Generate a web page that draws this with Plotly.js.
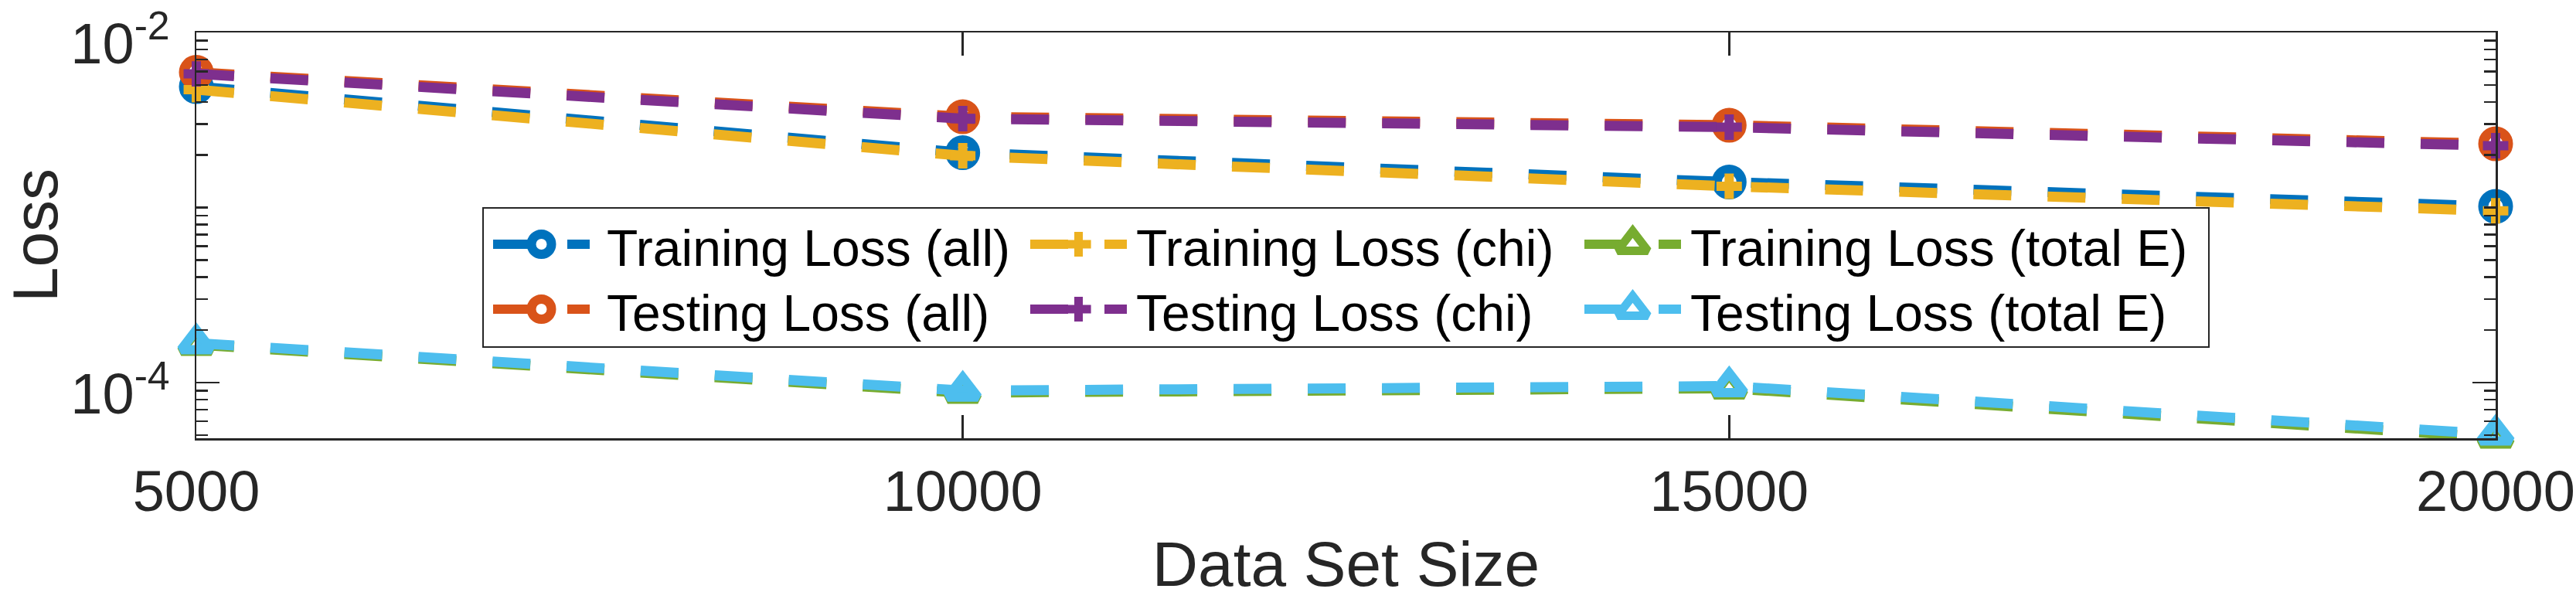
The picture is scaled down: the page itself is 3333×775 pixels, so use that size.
<!DOCTYPE html>
<html>
<head>
<meta charset="utf-8">
<script src="https://cdn.plot.ly/plotly-3.0.1.min.js"></script>
<style>
html, body { margin: 0; padding: 0; background: #ffffff; }
#chart { width: 3333px; height: 775px; }
</style>
</head>
<body>
<div id="chart"></div>
<script>
// ---- data ----
const dataSetSize   = [5000, 10000, 15000, 20000];
const trainLossAll  = [4.91e-3, 2.058e-3, 1.398e-3, 1.015e-3];
const testLossAll   = [5.92e-3, 3.302e-3, 2.953e-3, 2.313e-3];
const trainLossChi  = [4.71e-3, 1.976e-3, 1.322e-3, 0.957e-3];
const testLossChi   = [5.80e-3, 3.219e-3, 2.879e-3, 2.255e-3];
const trainLossE    = [1.645e-4, 8.76e-5, 9.27e-5, 4.86e-5];
const testLossE     = [1.68e-4, 9.00e-5, 9.55e-5, 5.06e-5];

const seriesNames = ['Training Loss (all)', 'Testing Loss (all)', 'Training Loss (chi)',
                     'Testing Loss (chi)', 'Training Loss (total E)', 'Testing Loss (total E)'];

const xTickVals = [5000, 10000, 15000, 20000];
const xTickText = ['5000', '10000', '15000', '20000'];
const yTickVals = [1e-4, 1e-2];
const yTickText = ['10<sup>-4</sup>', '10<sup>-2</sup>'];
const yMinorTickVals = [5e-5, 6e-5, 7e-5, 8e-5, 9e-5,
                        2e-4, 3e-4, 4e-4, 5e-4, 6e-4, 7e-4, 8e-4, 9e-4,
                        1e-3, 2e-3, 3e-3, 4e-3, 5e-3, 6e-3, 7e-3, 8e-3, 9e-3];

// ---- styles / layout config ----
const W = 3333, H = 775;
const plotL = 254, plotR = 3229, plotT = 42, plotB = 567;
const yRange = [-4.318, -2];
const axisColor = '#262626';
const fontFamily = 'Liberation Sans, Arial, Helvetica, sans-serif';

const styles = [
  {color: '#0072BD', symbol: 'circle-open',      size: 32, lgSize: 26, mlw: 13},
  {color: '#D95319', symbol: 'circle-open',      size: 32, lgSize: 26, mlw: 13},
  {color: '#EDB120', symbol: 'cross-thin-open',  size: 23.5, lgSize: 23, mlw: 12},
  {color: '#7E2F8E', symbol: 'cross-thin-open',  size: 23.5, lgSize: 23, mlw: 12},
  {color: '#77AC30', symbol: 'triangle-up-open', size: 34, lgSize: 34, mlw: 12},
  {color: '#4DBEEE', symbol: 'triangle-up-open', size: 34, lgSize: 34, mlw: 12}
];
const seriesValues = [trainLossAll, testLossAll, trainLossChi, testLossChi, trainLossE, testLossE];
const dashPattern = '49px,47px';
const lineWidth = 13;

// legend geometry (pixel coordinates of the figure)
const legendBox = {x0: 625, x1: 2858, y0: 269, y1: 449};
const legendCols = [
  {lineX0: 638,  lineX1: 763,  textX: 783},
  {lineX0: 1333, lineX1: 1458, textX: 1468},
  {lineX0: 2050, lineX1: 2175, textX: 2185}
];
const legendRows = [{lineY: 316, textY: 321}, {lineY: 400, textY: 405}];

const traces = [];
seriesValues.forEach(function (vals, i) {
  const s = styles[i];
  traces.push({
    type: 'scatter', mode: 'lines+markers', name: seriesNames[i],
    x: dataSetSize, y: vals, xaxis: 'x', yaxis: 'y',
    cliponaxis: false,
    line: {color: s.color, width: lineWidth, dash: dashPattern},
    marker: {symbol: s.symbol, size: s.size, color: s.color,
             line: {color: s.color, width: s.mlw}},
    hoverinfo: 'skip'
  });
});

// custom legend glyphs drawn on an overlay pixel-coordinate axis pair
const annotations = [];
seriesNames.forEach(function (name, i) {
  const s = styles[i];
  const col = legendCols[Math.floor(i / 2)];
  const row = legendRows[i % 2];
  traces.push({
    type: 'scatter', mode: 'lines', xaxis: 'x2', yaxis: 'y2', showlegend: false,
    x: [col.lineX0, col.lineX1], y: [row.lineY, row.lineY],
    line: {color: s.color, width: 12, dash: dashPattern}, hoverinfo: 'skip'
  });
  traces.push({
    type: 'scatter', mode: 'markers', xaxis: 'x2', yaxis: 'y2', showlegend: false,
    cliponaxis: false,
    x: [(col.lineX0 + col.lineX1) / 2], y: [row.lineY],
    marker: {symbol: s.symbol, size: s.lgSize, color: s.color,
             line: {color: s.color, width: s.mlw - 1}},
    hoverinfo: 'skip'
  });
  annotations.push({
    xref: 'x2', yref: 'y2', x: col.textX, y: row.textY,
    xanchor: 'left', yanchor: 'middle', showarrow: false,
    text: name, font: {family: fontFamily, size: 66, color: '#000000'}
  });
});

const layout = {
  width: W, height: H,
  margin: {l: plotL, r: W - plotR, t: plotT, b: H - plotB, pad: 0},
  paper_bgcolor: '#ffffff', plot_bgcolor: '#ffffff',
  showlegend: false,
  font: {family: fontFamily, color: axisColor},
  xaxis: {
    range: [5000, 20000], tickmode: 'array', tickvals: xTickVals, ticktext: xTickText,
    ticks: 'inside', ticklen: 30, tickwidth: 2.5, tickcolor: axisColor,
    showline: true, linecolor: axisColor, linewidth: 2.5, mirror: 'ticks',
    showgrid: false, zeroline: false,
    tickfont: {family: fontFamily, size: 74, color: axisColor},
    ticklabelstandoff: 3, ticklabeloverflow: 'allow',
    title: {text: 'Data Set Size', font: {family: fontFamily, size: 82, color: axisColor}, standoff: 34},
    automargin: false
  },
  yaxis: {
    type: 'log', range: yRange, tickmode: 'array', tickvals: yTickVals, ticktext: yTickText,
    ticks: 'inside', ticklen: 30, tickwidth: 2.5, tickcolor: axisColor,
    minor: {tickmode: 'array', tickvals: yMinorTickVals, ticks: 'inside', ticklen: 15,
            tickwidth: 2.5, tickcolor: axisColor, showgrid: false},
    showline: true, linecolor: axisColor, linewidth: 2.5, mirror: 'ticks',
    showgrid: false, zeroline: false,
    tickfont: {family: fontFamily, size: 74, color: axisColor},
    ticklabelstandoff: 17, ticklabelshift: 14, ticklabeloverflow: 'allow',
    title: {text: 'Loss', font: {family: fontFamily, size: 82, color: axisColor}, standoff: 30},
    automargin: false
  },
  xaxis2: {overlaying: 'x', anchor: 'y2', range: [plotL, plotR], visible: false, fixedrange: true},
  yaxis2: {overlaying: 'y', anchor: 'x2', range: [plotB, plotT], visible: false, fixedrange: true},
  shapes: [{
    type: 'rect', xref: 'x2', yref: 'y2', layer: 'below',
    x0: legendBox.x0, x1: legendBox.x1, y0: legendBox.y0, y1: legendBox.y1,
    line: {color: axisColor, width: 2}, fillcolor: '#ffffff'
  }],
  annotations: annotations
};

Plotly.newPlot('chart', traces, layout, {displayModeBar: false, staticPlot: true});
</script>
</body>
</html>
